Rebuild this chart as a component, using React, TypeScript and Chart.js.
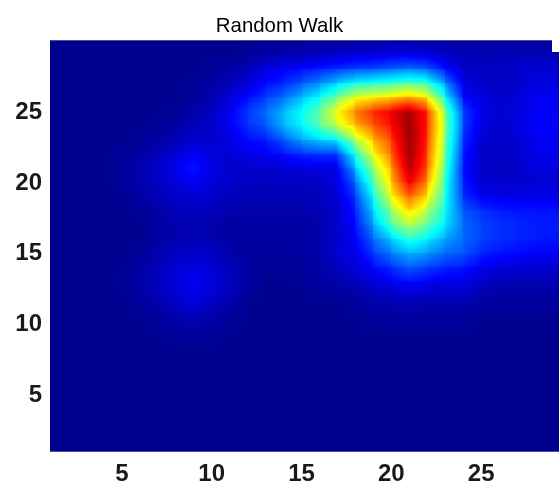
import React, { useEffect, useRef } from "react";
import { Chart, registerables } from "chart.js";

Chart.register(...registerables);

const titleText = "Random Walk";
const xTicks = [5, 10, 15, 20, 25];
const yTicks = [5, 10, 15, 20, 25];
const xCells = [1,2,3,4,5,6,7,8,9,10,11,12,13,14,15,16,17,18,19,20,21,22,23,24,25,26,27,28,29,30];

const row30 = [0,0,0,0,0,0,0,0,0,0,0,0,0,0,1,1,1,1,2,2,2,2,1,1,1,1,1,1,1,1];
const row29 = [0,0,0,0,0,0,0,0,0,0,0,1,2,3,4,5,6,7,8,9,9,8,6,4,4,4,4,4,4,4];
const row28 = [0,0,0,0,0,0,0,0,0,1,2,4,8,10,12,14,16,18,19,21,23,21,12,6,5,5,6,7,7,7];
const row27 = [0,0,0,0,0,0,0,0,1,2,4,7,12,15,20,25,32,38,40,42,45,42,26,8,6,5,6,8,8,8];
const row26 = [0,0,0,0,0,0,0,0,1,3,7,12,17,22,30,38,48,60,63,66,70,64,38,12,8,6,7,10,10,10];
const row25 = [0,0,0,0,0,0,0,1,3,5,10,17,22,30,38,47,63,76,85,90,98,85,50,18,9,7,8,10,11,11];
const row24 = [0,0,0,0,0,0,1,2,4,6,10,16,20,30,37,46,58,70,80,88,100,85,52,18,8,6,8,11,11,11];
const row23 = [0,0,0,0,0,1,2,4,6,6,8,12,14,20,28,33,36,55,70,82,100,84,50,16,7,6,7,10,10,10];
const row22 = [0,0,0,0,1,2,4,7,10,8,7,9,10,13,16,17,17,40,62,78,100,82,48,14,6,5,6,9,9,9];
const row21 = [0,0,0,0,1,3,6,10,14,8,6,6,6,7,8,8,9,30,52,72,98,80,45,13,6,5,6,8,8,8];
const row20 = [0,0,0,0,1,3,5,8,10,8,6,5,5,5,5,5,8,22,45,68,92,74,42,14,7,6,6,7,7,7];
const row19 = [0,0,0,0,0,2,4,6,7,6,4,4,4,4,4,5,7,17,38,62,80,66,40,16,10,9,9,9,9,9];
const row18 = [0,0,0,0,0,1,2,4,5,4,3,3,3,3,3,4,6,14,33,52,68,55,38,20,16,14,13,13,13,13];
const row17 = [0,0,0,0,0,0,2,3,4,3,2,2,2,2,2,3,6,12,28,45,56,47,35,22,18,16,15,14,14,14];
const row16 = [0,0,0,0,0,0,2,3,4,3,2,2,2,2,2,3,6,10,22,32,42,36,28,22,18,16,15,14,13,13];
const row15 = [0,0,0,0,0,1,3,5,6,5,3,1,1,1,2,3,7,9,17,24,30,27,22,20,15,13,12,11,11,11];
const row14 = [0,0,0,0,0,2,4,7,8,7,4,2,1,1,1,2,5,7,12,16,21,18,15,14,10,8,7,7,7,7];
const row13 = [0,0,0,0,1,2,5,8,10,8,5,2,0,0,1,2,3,5,8,10,13,11,9,9,6,4,4,4,4,4];
const row12 = [0,0,0,0,0,2,4,7,9,7,4,1,0,0,0,1,1,2,4,5,6,5,5,5,3,2,2,2,2,2];
const row11 = [0,0,0,0,0,1,2,4,6,4,2,0,0,0,0,0,0,1,2,2,3,2,2,2,1,1,1,1,1,1];
const row10 = [0,0,0,0,0,0,1,2,3,2,1,0,0,0,0,0,0,0,1,1,1,1,1,1,0,0,0,0,0,0];
const row9 = [0,0,0,0,0,0,0,1,1,1,0,0,0,0,0,0,0,0,0,0,0,0,0,0,0,0,0,0,0,0];
const row8 = [0,0,0,0,0,0,0,0,0,0,0,0,0,0,0,0,0,0,0,0,0,0,0,0,0,0,0,0,0,0];
const row7 = [0,0,0,0,0,0,0,0,0,0,0,0,0,0,0,0,0,0,0,0,0,0,0,0,0,0,0,0,0,0];
const row6 = [0,0,0,0,0,0,0,0,0,0,0,0,0,0,0,0,0,0,0,0,0,0,0,0,0,0,0,0,0,0];
const row5 = [0,0,0,0,0,0,0,0,0,0,0,0,0,0,0,0,0,0,0,0,0,0,0,0,0,0,0,0,0,0];
const row4 = [0,0,0,0,0,0,0,0,0,0,0,0,0,0,0,0,0,0,0,0,0,0,0,0,0,0,0,0,0,0];
const row3 = [0,0,0,0,0,0,0,0,0,0,0,0,0,0,0,0,0,0,0,0,0,0,0,0,0,0,0,0,0,0];
const row2 = [0,0,0,0,0,0,0,0,0,0,0,0,0,0,0,0,0,0,0,0,0,0,0,0,0,0,0,0,0,0];
const row1 = [0,0,0,0,0,0,0,0,0,0,0,0,0,0,0,0,0,0,0,0,0,0,0,0,0,0,0,0,0,0];

// index 0 is y = 1
const rows = [row1,row2,row3,row4,row5,row6,row7,row8,row9,row10,row11,row12,row13,row14,row15,row16,row17,row18,row19,row20,row21,row22,row23,row24,row25,row26,row27,row28,row29,row30];

const TILE = 0.2;

function jet(v: number): [number, number, number] {
  const t = 1 / 64 + (Math.max(0, Math.min(100, v)) / 100) * (62 / 64);
  const ch = (c: number) => Math.round(255 * Math.max(0, Math.min(1, 1.5 - Math.abs(4 * t - c))));
  return [ch(3), ch(2), ch(1)];
}

const heatmap = {
  id: "heatmap",
  beforeDatasetsDraw(chart: any) {
    const { ctx, chartArea: a, scales } = chart;
    const pts = chart.data.datasets[0].data as { x: number; y: number; v: number }[];
    const nx = xCells.length;
    const lookup = (ix: number, iy: number) => pts[Math.min(rows.length - 1, iy) * nx + Math.min(nx - 1, ix)].v;
    const L = Math.round(a.left), T = Math.round(a.top);
    const W = Math.round(a.right) - L, H = Math.round(a.bottom) - T;
    const img = ctx.createImageData(W, H);
    for (let py = 0; py < H; py++) {
      const yv = Math.max(1, scales.y.getValueForPixel(T + py + 0.5));
      const iy = Math.floor(yv) - 1, fy = yv - 1 - iy;
      for (let px = 0; px < W; px++) {
        const xv = Math.max(1, scales.x.getValueForPixel(L + px + 0.5));
        const ix = Math.floor(xv) - 1, fx = xv - 1 - ix;
        const a00 = lookup(ix, iy), a10 = lookup(ix + 1, iy), a01 = lookup(ix, iy + 1), a11 = lookup(ix + 1, iy + 1);
        const bi = a00 * (1 - fx) * (1 - fy) + a10 * fx * (1 - fy) + a01 * (1 - fx) * fy + a11 * fx * fy;
        const flat = (a00 + a10 + a01 + a11) / 4;
        const [r, g, b] = jet(bi * (1 - TILE) + flat * TILE);
        const o = (py * W + px) * 4;
        img.data[o] = r; img.data[o + 1] = g; img.data[o + 2] = b; img.data[o + 3] = 255;
      }
    }
    ctx.putImageData(img, L, T);
    ctx.save();
    ctx.strokeStyle = "#4a4aa8";
    ctx.lineWidth = 1;
    ctx.beginPath();
    ctx.moveTo(L, T + 0.5);
    ctx.lineTo(a.right, T + 0.5);
    ctx.stroke();
    // the reference's top-right corner is cut away
    ctx.fillStyle = "#ffffff";
    ctx.fillRect(a.right - 7, 0, 7, T + 12);
    ctx.restore();
  },
};

export default function App() {
  const ref = useRef<HTMLCanvasElement>(null);
  useEffect(() => {
    const font = { family: "'Liberation Sans', Arial, sans-serif", size: 24, weight: "bold" };
    const chart = new Chart(ref.current!, {
      type: "scatter",
      data: {
        datasets: [{
          label: titleText,
          data: rows.flatMap((r, j) => r.map((v, i) => ({ x: xCells[i], y: j + 1, v }))),
          pointRadius: 0,
          pointHoverRadius: 0,
        }],
      },
      plugins: [heatmap],
      options: {
        animation: false,
        responsive: false,
        events: [],
        layout: { padding: 0 },
        plugins: {
          legend: { display: false },
          tooltip: { enabled: false },
          title: {
            display: true,
            text: titleText,
            color: "#000000",
            font: { family: font.family, size: 20.4, weight: "normal" },
            padding: { top: 14, bottom: 2 },
          },
        },
        scales: {
          x: {
            type: "linear",
            min: 1,
            max: 29.33,
            grid: { display: false },
            border: { display: true, color: "#4a4aa8", width: 1 },
            afterBuildTicks: (s: any) => { s.ticks = xTicks.map((value) => ({ value })); },
            afterFit: (s: any) => { s.height = 35; },
            ticks: { color: "#1a1a1a", font, padding: 1, maxRotation: 0, autoSkip: false },
          },
          y: {
            type: "linear",
            min: 1,
            max: 30,
            grid: { display: false },
            border: { display: true, color: "#4a4aa8", width: 1 },
            afterBuildTicks: (s: any) => { s.ticks = yTicks.map((value) => ({ value })); },
            afterFit: (s: any) => { s.width = 50; },
            ticks: { color: "#1a1a1a", font, padding: 0, labelOffset: 1, autoSkip: false },
          },
        },
      },
    } as any);
    return () => chart.destroy();
  }, []);
  return (
    <div style={{ position: "absolute", left: 0, top: 0, width: 559, height: 486 }}>
      <canvas ref={ref} width={559} height={486} style={{ display: "block" }} />
    </div>
  );
}
